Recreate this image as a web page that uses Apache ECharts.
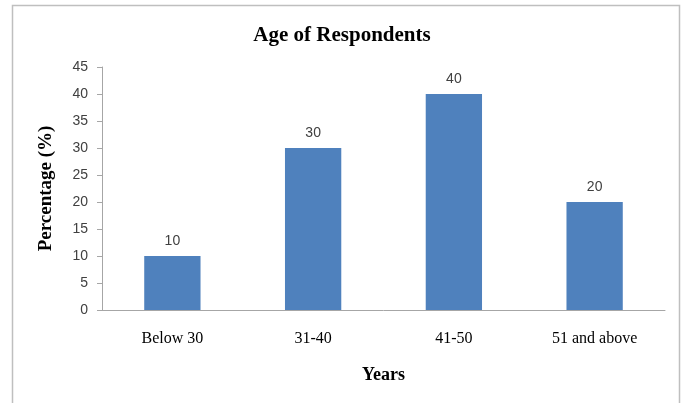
<!DOCTYPE html>
<html><head><meta charset="utf-8">
<script src="https://cdn.jsdelivr.net/npm/echarts@6/dist/echarts.min.js"></script>
<style>html,body{margin:0;padding:0;background:#fff}#c{width:684px;height:403px}</style>
</head><body><div id="c"></div>
<script>
const categories = ["Below 30", "31-40", "41-50", "51 and above"];
const percentages = [10, 30, 40, 20];
const yTicks = [0, 5, 10, 15, 20, 25, 30, 35, 40, 45];

const chart = echarts.init(document.getElementById('c'), null, {renderer: 'canvas'});
chart.setOption({
  animation: false,
  backgroundColor: '#fff',
  graphic: [{
    type: 'rect', shape: {x: 12.5, y: 5.5, width: 667, height: 420},
    style: {fill: 'none', stroke: '#bfbfbf', lineWidth: 1.5}, silent: true
  }],
  title: {
    text: 'Age of Respondents', left: 'center', top: 20,
    textStyle: {fontFamily: 'Liberation Serif', fontWeight: 'bold', fontSize: 21, color: '#000'}
  },
  grid: {left: 102, right: 19, top: 67, bottom: 93, containLabel: false},
  xAxis: {
    type: 'category', data: categories,
    name: 'Years', nameLocation: 'middle', nameGap: 56,
    nameTextStyle: {fontFamily: 'Liberation Serif', fontWeight: 'bold', fontSize: 18, color: '#000'},
    axisLine: {lineStyle: {color: '#a6a6a6', width: 1}},
    axisTick: {show: false},
    axisLabel: {fontFamily: 'Liberation Serif', fontSize: 16, color: '#000', margin: 21}
  },
  yAxis: {
    type: 'value', min: 0, max: 45, interval: 5,
    name: 'Percentage (%)', nameLocation: 'middle', nameGap: 46, nameRotate: 90,
    nameTextStyle: {fontFamily: 'Liberation Serif', fontWeight: 'bold', fontSize: 19, color: '#000'},
    axisLine: {show: true, lineStyle: {color: '#a6a6a6', width: 1}},
    axisTick: {show: true, length: 5, lineStyle: {color: '#a6a6a6'}},
    splitLine: {show: false},
    axisLabel: {
      fontFamily: 'Liberation Sans', fontSize: 14, color: '#404040', margin: 14,
      formatter: v => yTicks.includes(v) ? String(v) : ''
    }
  },
  series: [{
    type: 'bar', data: percentages, barWidth: '40%',
    itemStyle: {color: '#4f81bd'},
    label: {show: true, position: 'top', distance: 8, fontFamily: 'Liberation Sans', fontSize: 14, color: '#404040'}
  }]
});
</script></body></html>
